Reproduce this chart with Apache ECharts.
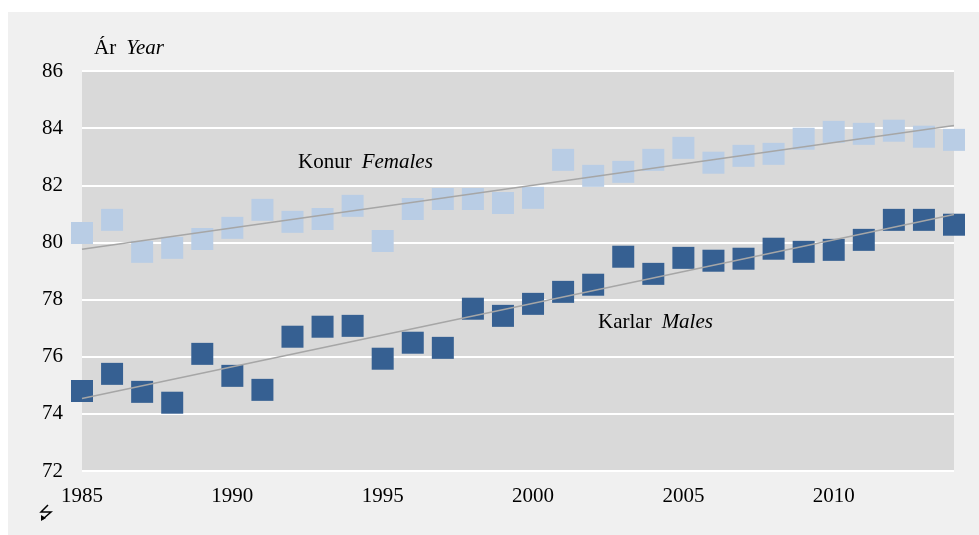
<!DOCTYPE html>
<html>
<head>
<meta charset="utf-8">
<script src="https://cdn.jsdelivr.net/npm/echarts@6/dist/echarts.min.js"></script>
<style>
  html, body { margin: 0; padding: 0; background: #ffffff; }
  .panel { position: absolute; left: 8px; top: 12px; width: 971px; height: 523px; background: #f0f0f0; }
  #chart { position: absolute; left: 0; top: 0; width: 979px; height: 535px; }
</style>
</head>
<body>
<div class="panel"></div>
<div id="chart"></div>
<script>
// life expectancy
const years = [
  1985, 1986, 1987, 1988, 1989, 1990, 1991, 1992, 1993, 1994,
  1995, 1996, 1997, 1998, 1999, 2000, 2001, 2002, 2003, 2004,
  2005, 2006, 2007, 2008, 2009, 2010, 2011, 2012, 2013, 2014
]

const females = [
  80.33, 80.79, 79.67, 79.81, 80.12, 80.51, 81.14, 80.72, 80.82, 81.28,
  80.05, 81.17, 81.52, 81.52, 81.38, 81.56, 82.89, 82.33, 82.47, 82.89,
  83.31, 82.79, 83.03, 83.10, 83.63, 83.87, 83.80, 83.91, 83.70, 83.59
]

const males = [
  74.80, 75.40, 74.77, 74.39, 76.10, 75.33, 74.84, 76.70, 77.05, 77.08,
  75.93, 76.49, 76.31, 77.68, 77.43, 77.85, 78.27, 78.52, 79.50, 78.90,
  79.46, 79.36, 79.43, 79.78, 79.67, 79.74, 80.09, 80.79, 80.79, 80.62
]

// trend line end points
const trendYears = [1985, 2014]
const femalesTrend = [79.76, 84.09]
const malesTrend = [74.54, 80.98]

const font = '"Liberation Serif", "Times New Roman", serif'

const chart = echarts.init(document.getElementById('chart'))

function pairs(xs, ys) {
  return xs.map((x, i) => [x, ys[i]])
}

function label(text, left, top) {
  return {
    text: text,
    left: left,
    top: top,
    padding: 0,
    textStyle: {
      fontWeight: 'normal',
      rich: {
        a: { fontFamily: font, fontSize: 21, fontWeight: 'normal', color: '#000', lineHeight: 24 },
        b: { fontFamily: font, fontSize: 21, fontWeight: 'normal', fontStyle: 'italic', color: '#000', lineHeight: 24 }
      }
    }
  }
}

chart.setOption({
  animation: false,
  backgroundColor: 'transparent',
  title: [
    label('{a|Ár}  {b|Year}', 94, 36),
    label('{a|Konur}  {b|Females}', 298, 150),
    label('{a|Karlar}  {b|Males}', 598, 310)
  ],
  grid: {
    left: 82,
    right: 25,
    top: 71,
    bottom: 64,
    show: true,
    backgroundColor: '#d9d9d9',
    borderWidth: 0
  },
  xAxis: {
    type: 'value',
    min: 1985,
    max: 2014,
    interval: 5,
    axisLine: { show: false },
    axisTick: { show: false },
    splitLine: { show: false },
    axisLabel: {
      margin: 15,
      color: '#000',
      fontFamily: font,
      fontSize: 21,
      showMaxLabel: false,
      formatter: v => String(v)
    }
  },
  yAxis: {
    type: 'value',
    min: 72,
    max: 86,
    interval: 2,
    axisLine: { show: false },
    axisTick: { show: false },
    splitLine: { lineStyle: { color: '#ffffff', width: 2 } },
    axisLabel: {
      margin: 19,
      color: '#000',
      fontFamily: font,
      fontSize: 21
    }
  },
  series: [
    {
      type: 'scatter',
      symbol: 'rect',
      symbolSize: 22,
      data: pairs(years, females),
      itemStyle: { color: '#b9cde5', opacity: 1 }
    },
    {
      type: 'scatter',
      symbol: 'rect',
      symbolSize: 22,
      data: pairs(years, males),
      itemStyle: { color: '#366092', opacity: 1 }
    },
    {
      type: 'line',
      data: pairs(trendYears, femalesTrend),
      symbol: 'none',
      lineStyle: { color: '#a6a6a6', width: 1.5 },
      z: 5
    },
    {
      type: 'line',
      data: pairs(trendYears, malesTrend),
      symbol: 'none',
      lineStyle: { color: '#a6a6a6', width: 1.5 },
      z: 5
    }
  ],
  graphic: [
    {
      // axis break mark
      type: 'polyline',
      shape: { points: [[48, 505], [41, 512], [51, 512], [43, 519]] },
      style: { stroke: '#000', lineWidth: 1.5, fill: null }
    },
    {
      type: 'polygon',
      shape: { points: [[41, 521], [41, 515], [46, 518]] },
      style: { fill: '#000' }
    }
  ]
})
</script>
</body>
</html>
